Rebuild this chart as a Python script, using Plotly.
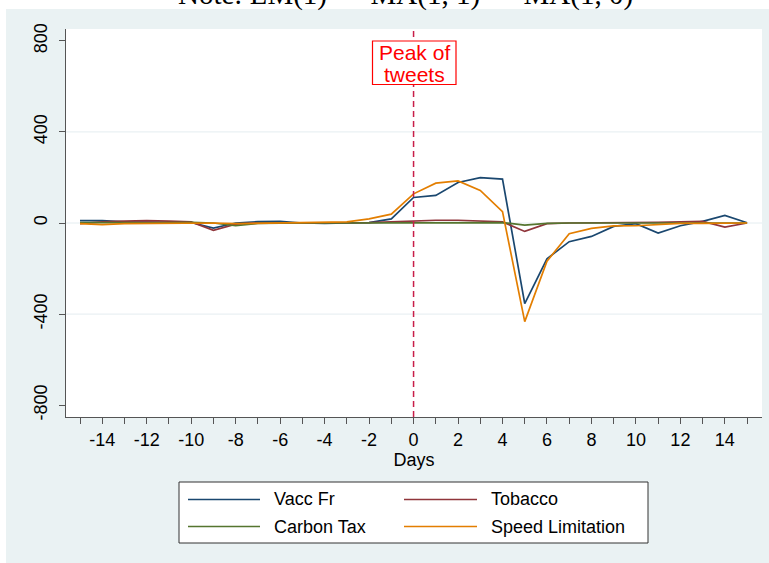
import plotly.graph_objects as go

# ---- data: daily effect around the peak of tweets (day 0) ----
days = list(range(-15, 16))

vacc_fr = [10, 11, 5, 5, 3, 2, -22, 0, 6, 7, 0, -2, 0, 2, 18,
           112, 121, 178, 199, 193, -354, -157, -82, -59, -15, -3, -44, -12, 7, 33, 1]
tobacco = [-3, 5, 8, 10, 8, 5, -32, -5, 0, 0, 0, 0, 0, 2, 5,
           9, 12, 12, 10, 5, -37, -3, 0, 0, 2, 2, 3, 5, 7, -18, 0]
carbon_tax = [2, 3, 2, 1, 2, 3, 0, -12, -2, 0, 0, 0, 0, 0, 0,
              2, 3, 3, 3, 2, -9, -2, 0, 0, 0, 0, 0, 0, 0, 0, 0]
speed_limitation = [-3, -7, -3, -2, -4, 0, 0, -3, -2, 0, 2, 3, 5, 18, 39,
                    128, 175, 185, 143, 50, -433, -168, -47, -24, -13, -12, -7, -2, -2, -2, 0]

series_names = ["Vacc Fr", "Tobacco", "Carbon Tax", "Speed Limitation"]
series_values = [vacc_fr, tobacco, carbon_tax, speed_limitation]
series_colors = ["#1A476F", "#90353B", "#55752F", "#E37E00"]

x_tick_vals = days
x_tick_text = [str(d) if d % 2 == 0 else "" for d in days]
y_tick_vals = [-800, -400, 0, 400, 800]
y_tick_text = ["-800", "-400", "0", "400", "800"]
grid_vals = [-400, 0, 400]
event_day = 0

# ---- page geometry (pixels) ----
W, H = 769, 563
ML, MR, MT, MB = 66, 7, 29, 146
PW = W - ML - MR
PH = H - MT - MB


def fx(px):
    return (px - ML) / PW


def fy(py):
    return (H - MB - py) / PH


FONT = "Arial, Liberation Sans, sans-serif"
BG = "#EAF2F3"
AXIS = "#555555"

fig = go.Figure()
for name, vals, col in zip(series_names, series_values, series_colors):
    fig.add_trace(go.Scatter(x=days, y=vals, mode="lines", name=name,
                             line=dict(color=col, width=1.7),
                             showlegend=False, hoverinfo="x+y+name"))

shapes = []
# outer graph region and white plot region
shapes.append(dict(type="rect", xref="paper", yref="paper", layer="below",
                   x0=fx(6), x1=fx(W + 2), y0=fy(H + 2), y1=fy(9),
                   fillcolor=BG, line=dict(width=0)))
shapes.append(dict(type="rect", xref="paper", yref="paper", layer="below",
                   x0=0, x1=1, y0=0, y1=1, fillcolor="white", line=dict(width=0)))
for g in grid_vals:
    shapes.append(dict(type="line", xref="paper", yref="y", layer="below",
                       x0=0, x1=1, y0=g, y1=g, line=dict(color="#E4EDF0", width=1)))
# vertical marker at the peak day
shapes.append(dict(type="line", xref="x", yref="paper", x0=event_day, x1=event_day,
                   y0=0, y1=1, line=dict(color="#C81E48", width=1.5, dash="6px,4px")))
# label box
shapes.append(dict(type="rect", xref="paper", yref="paper",
                   x0=fx(372.5), x1=fx(456), y0=fy(84.5), y1=fy(41),
                   fillcolor="white", line=dict(color="#FF0000", width=1.2)))
# legend box
shapes.append(dict(type="rect", xref="paper", yref="paper",
                   x0=fx(179), x1=fx(648), y0=fy(543), y1=fy(482),
                   fillcolor="white", line=dict(color="#333333", width=1)))

legend_cols = [(188, 260, 272), (404, 477, 489)]
legend_rows = [499.5, 526.5]
annotations = []
for i, (name, col) in enumerate(zip(series_names, series_colors)):
    lx0, lx1, tx = legend_cols[i % 2]
    ly = legend_rows[i // 2]
    shapes.append(dict(type="line", xref="paper", yref="paper",
                       x0=fx(lx0), x1=fx(lx1), y0=fy(ly), y1=fy(ly),
                       line=dict(color=col, width=1.7)))
    annotations.append(dict(xref="paper", yref="paper", x=fx(tx), y=fy(ly),
                            xanchor="left", yanchor="middle", showarrow=False,
                            text=name, font=dict(family=FONT, size=18, color="black")))

# two-line red label
annotations.append(dict(xref="paper", yref="paper", x=fx(414), y=fy(52),
                        xanchor="center", yanchor="middle", showarrow=False,
                        text="Peak of", font=dict(family=FONT, size=21, color="#FF0000")))
annotations.append(dict(xref="paper", yref="paper", x=fx(414), y=fy(74.5),
                        xanchor="center", yanchor="middle", showarrow=False,
                        text="tweets", font=dict(family=FONT, size=21, color="#FF0000")))

# note line above the graph
annotations.append(dict(xref="paper", yref="paper", x=fx(405), y=fy(13),
                        xanchor="center", yanchor="bottom", showarrow=False,
                        text="Note: LM(1) \u2014 MA(1, 1) \u2014 MA(1, 0)",
                        font=dict(family="Liberation Serif, Times New Roman, serif",
                                  size=29, color="black")))

fig.update_layout(
    width=W, height=H,
    margin=dict(l=ML, r=MR, t=MT, b=MB, autoexpand=False),
    paper_bgcolor="white", plot_bgcolor="rgba(0,0,0,0)",
    font=dict(family=FONT, size=18, color="black"),
    shapes=shapes, annotations=annotations,
    xaxis=dict(range=[-15.63, 15.67], tickmode="array", tickvals=x_tick_vals,
               ticktext=x_tick_text, ticks="outside", ticklen=6, tickwidth=1.2,
               tickcolor=AXIS, showline=True, linecolor=AXIS, linewidth=1.3,
               showgrid=False, zeroline=False, tickfont=dict(size=18),
               title=dict(text="Days", font=dict(size=18), standoff=1)),
    yaxis=dict(range=[-852, 852], tickmode="array", tickvals=y_tick_vals,
               ticktext=y_tick_text, tickangle=-90, ticks="outside", ticklen=6,
               tickwidth=1.2, tickcolor=AXIS, showline=True, linecolor=AXIS,
               linewidth=1.3, showgrid=False, zeroline=False,
               ticklabelstandoff=5, tickfont=dict(size=18)),
    showlegend=False,
)

fig.write_html("out.html")
